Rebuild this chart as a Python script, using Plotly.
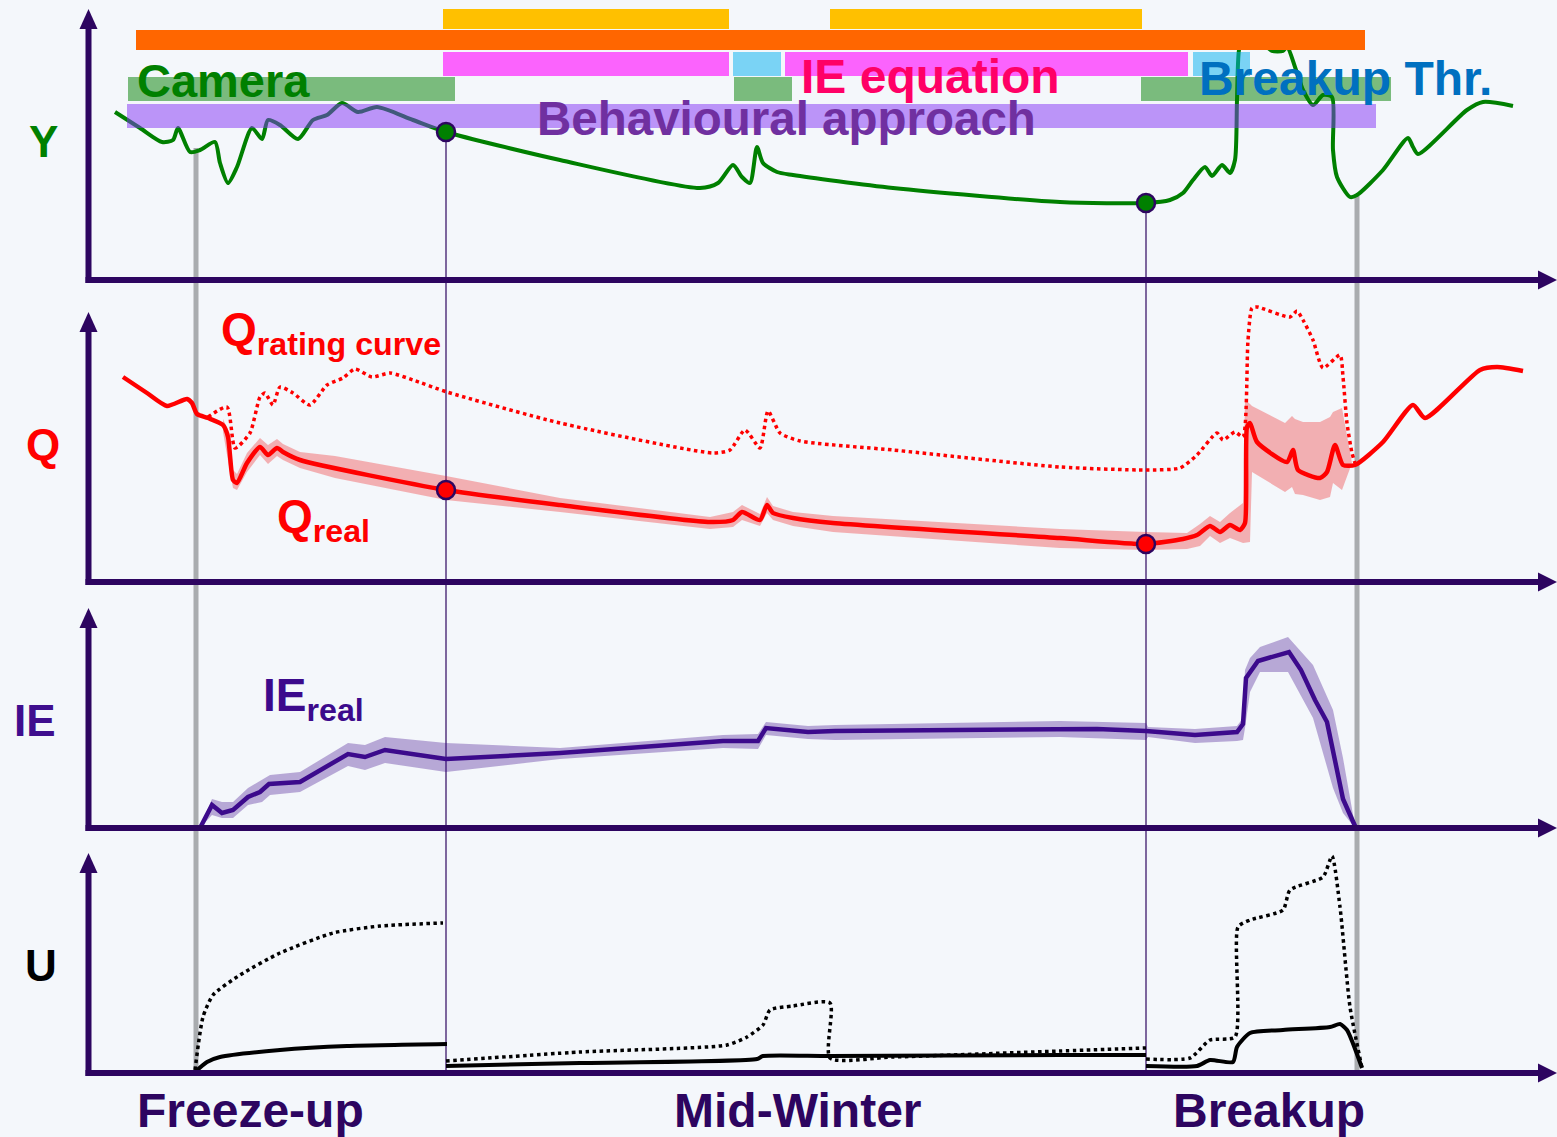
import plotly.graph_objects as go

# ---------------------------------------------------------------- style
BG = "#F4F7FB"
AXIS = "#2D0560"
FONT = "Liberation Sans, Arial, sans-serif"
W, H = 1557, 1137
UNIT = 10          # px per data unit on every axis
X0 = 90            # px position of the time origin
BASE = {"Y": 280, "Q": 582, "IE": 828, "U": 1073}   # px baseline of each panel
YREF = {"Y": "y", "Q": "y2", "IE": "y3", "U": "y4"}
TIP = {"Y": 27.1, "Q": 27.0, "IE": 22.0, "U": 22.0}  # axis arrow tips (panel units)

# ---------------------------------------------------------------- data
# water level Y
y_t = [2.5, 5.0, 7.2, 8.3, 8.8, 10.0, 11.0, 12.5, 13.0, 13.8, 14.7, 16.2, 17.2, 17.8,
       19.0, 20.8, 22.3, 23.7, 25.2, 26.8, 28.7, 32.3, 35.6, 47.0, 61.0, 62.8, 64.3,
       65.2, 66.0, 66.7, 67.3, 68.7, 70.3, 80.3, 97.0, 105.6, 108.0, 109.3, 110.3,
       111.5, 112.2, 113.2, 114.0, 114.5, 114.7, 114.9, 115.3, 117.2, 118.2, 119.3,
       119.7, 121.3, 122.3, 123.3, 124.2, 124.3, 124.7, 126.0, 126.7, 129.3, 131.8,
       132.3, 132.8, 137.7, 139.3, 142.3]
y_val = [16.8, 15.2, 13.8, 14.0, 15.2, 12.8, 13.0, 13.8, 11.7, 9.7, 11.3, 15.2, 14.1, 16.0,
         15.5, 14.1, 16.0, 16.5, 17.7, 16.8, 17.3, 16.0, 14.8, 12.0, 9.2, 9.7, 11.5,
         10.3, 9.7, 13.3, 11.7, 10.8, 10.5, 9.2, 7.8, 7.7, 8.0, 8.7, 10.0,
         11.3, 10.4, 11.5, 10.7, 12.0, 18.0, 23.0, 24.2, 23.8, 22.9, 22.9,
         23.3, 19.0, 17.5, 18.5, 18.3, 13.0, 10.3, 8.3, 8.5, 11.0, 14.2,
         13.3, 12.6, 17.0, 17.8, 17.4]

# method coverage periods (start, end) in time units
periods = {
    "rating":   [(35.3, 63.9), (74.0, 105.2)],
    "orange":   [(4.6, 127.5)],
    "ie_eq":    [(35.3, 63.9), (69.5, 109.8)],
    "thr":      [(64.3, 69.1), (110.3, 116.0)],
    "camera":   [(3.8, 36.5), (64.4, 70.2), (105.1, 130.1)],
    "behav":    [(3.7, 128.6)],
}

# discharge
q_t = [3.3, 5.7, 7.7, 9.7, 10.2, 10.7, 11.8, 13.3, 13.8, 14.3, 14.7, 15.7, 17.0, 17.8,
       18.7, 19.3, 21.0, 35.6, 47.0, 62.0, 64.3, 65.2, 67.0, 67.7, 68.3, 70.3, 74.3,
       97.0, 105.6, 109.3, 110.7, 112.0, 113.0, 114.0, 115.0, 115.5, 115.7, 116.0,
       116.7, 119.7, 120.3, 120.8, 123.0, 123.7, 124.5, 125.3, 126.5, 129.3, 132.3,
       133.5, 139.0, 140.7, 143.3]
q_real = [20.5, 18.9, 17.6, 18.3, 17.9, 16.8, 16.4, 15.7, 14.5, 10.2, 9.9, 11.9, 13.5, 12.7,
          13.4, 13.0, 12.2, 9.2, 7.7, 6.0, 6.2, 7.0, 6.2, 7.7, 6.9, 6.4, 5.9,
          4.4, 3.8, 4.3, 4.7, 5.6, 5.0, 5.7, 5.2, 5.9, 15.5, 15.9,
          14.0, 12.0, 13.2, 11.2, 10.4, 11.0, 13.7, 11.7, 11.7, 14.0, 17.7,
          16.4, 21.2, 21.5, 21.1]
qb_t = [13.3, 14.0, 14.3, 14.7, 15.7, 17.0, 17.8, 18.7, 19.3, 21.0, 24.5, 35.6, 47.0,
        62.0, 64.3, 65.2, 67.0, 67.7, 68.3, 70.3, 74.3, 97.0, 105.6, 109.7, 111.0,
        112.0, 113.0, 114.0, 115.3, 115.5, 116.0, 116.2, 119.5, 120.2, 120.5, 121.3,
        123.0, 124.0, 124.3, 125.2, 126.2]
qb_lo = [15.0, 11.0, 9.4, 9.2, 11.0, 12.7, 11.8, 12.6, 12.2, 11.4, 10.4, 8.2, 7.0,
         5.3, 5.5, 6.2, 5.6, 6.9, 6.2, 5.6, 5.0, 3.4, 3.2, 3.3, 3.6,
         4.6, 3.9, 4.4, 3.9, 3.9, 4.0, 11.0, 9.0, 9.5, 8.8, 8.7,
         8.2, 8.5, 9.9, 9.2, 11.9]
qb_hi = [16.3, 14.8, 11.2, 10.8, 12.9, 14.4, 13.7, 14.3, 13.8, 13.0, 12.6, 10.6, 8.4,
         6.5, 7.0, 7.7, 6.8, 8.5, 7.6, 7.0, 6.6, 5.3, 5.0, 4.9, 5.8,
         6.6, 6.0, 6.9, 7.9, 18.2, 17.8, 17.6, 15.9, 16.6, 16.3, 16.0,
         16.0, 16.5, 17.0, 17.4, 11.9]
qr_t = [11.8, 13.7, 14.5, 16.0, 17.0, 17.5, 18.3, 19.0, 20.3, 22.0, 23.7, 25.3, 26.5,
        28.2, 30.0, 32.3, 35.7, 47.0, 62.3, 64.0, 65.5, 67.0, 67.8, 69.0, 71.0, 80.3,
        97.0, 105.6, 109.0, 110.7, 112.7, 113.3, 114.5, 115.3, 115.8, 116.2, 116.7,
        120.0, 120.7, 121.3, 122.3, 123.3, 125.0, 125.3, 125.7, 126.2, 126.5]
q_rating = [16.5, 17.5, 13.4, 14.9, 18.5, 18.9, 17.7, 19.5, 18.9, 17.7, 19.7, 20.4, 21.3,
            20.5, 20.9, 20.2, 19.0, 15.9, 12.9, 13.2, 15.2, 13.4, 17.1, 14.9, 14.1, 13.2,
            11.5, 11.2, 11.4, 12.7, 14.9, 14.2, 15.0, 14.5, 24.2, 27.4, 27.5,
            26.5, 27.1, 26.2, 24.2, 21.4, 22.7, 20.5, 15.9, 12.9, 11.9]

# ice effect
ie_t = [2.3, 11.0, 12.2, 13.2, 14.3, 15.8, 17.0, 17.9, 21.0, 25.8, 27.5, 29.5, 35.6,
        47.0, 63.3, 66.8, 67.6, 71.8, 74.5, 97.0, 100.7, 105.6, 110.5, 114.7, 115.3,
        115.6, 116.8, 119.9, 121.1, 122.5, 123.7, 125.3, 126.5]
ie_real = [0.0, 0.0, 2.3, 1.5, 1.8, 3.1, 3.6, 4.4, 4.6, 7.4, 7.1, 7.8, 6.9,
           7.5, 8.7, 8.7, 10.0, 9.6, 9.7, 9.9, 9.9, 9.7, 9.3, 9.6, 10.4,
           15.0, 16.7, 17.6, 15.8, 12.8, 10.6, 2.9, 0.2]
ieb_t = [11.0, 12.2, 13.2, 14.3, 15.8, 17.2, 18.0, 21.0, 25.8, 27.5, 29.5, 35.6, 47.0,
         63.3, 66.8, 67.6, 71.8, 74.5, 97.0, 105.6, 105.8, 110.5, 114.7, 115.3, 115.5,
         116.0, 117.0, 119.8, 122.3, 124.3, 125.3, 126.5]
ieb_lo = [0.0, 1.3, 1.0, 1.0, 2.3, 2.6, 3.3, 3.6, 6.2, 5.8, 6.5, 5.6, 6.9,
          8.0, 7.9, 9.3, 8.9, 8.8, 9.1, 8.8, 9.1, 8.5, 8.7, 8.8, 10.0,
          13.6, 15.6, 15.6, 11.0, 4.0, 1.5, 0.0]
ieb_hi = [0.0, 2.9, 2.6, 2.6, 4.0, 4.8, 5.3, 5.6, 8.5, 8.3, 9.1, 8.5, 8.0,
          9.3, 9.4, 10.6, 10.2, 10.3, 10.7, 10.5, 10.1, 9.9, 10.2, 11.0, 15.8,
          17.0, 18.1, 19.1, 16.3, 11.8, 7.0, 0.2]

# uncertainty (None separates the three estimation periods)
u_t = [10.5, 11.7, 13.0, 19.0, 25.7, 35.7, None,
       35.6, 49.0, 66.7, 67.3, 74.0, 97.0, 105.6, None,
       105.6, 110.7, 112.0, 114.3, 114.7, 116.0, 119.3, 124.0, 125.0, 125.7, 127.2]
u_real = [0.1, 1.1, 1.6, 2.3, 2.7, 2.9, None,
          0.7, 1.0, 1.4, 1.7, 1.7, 1.8, 1.8, None,
          0.7, 0.7, 1.3, 1.1, 2.6, 4.0, 4.3, 4.6, 4.9, 4.3, 0.5]
ud_t = [10.5, 11.3, 12.3, 15.0, 19.0, 24.3, 29.0, 35.3, None,
        35.6, 49.0, 63.7, 65.7, 67.3, 68.0, 70.3, 74.0, 74.0, 80.3, 97.0, 105.6, None,
        105.6, 110.0, 112.0, 114.5, 114.8, 116.0, 119.3, 120.0, 123.3, 124.2, 125.0,
        126.0, 127.2]
u_rating = [0.3, 5.6, 7.8, 9.8, 12.0, 14.0, 14.7, 15.0, None,
            1.2, 2.1, 2.8, 3.6, 4.8, 6.3, 6.7, 7.0, 1.5, 1.6, 2.2, 2.5, None,
            1.4, 1.5, 3.3, 3.6, 14.6, 15.3, 16.3, 18.3, 19.6, 21.7, 16.6,
            6.6, 0.5]

# key instants
t_freeze, t_breakup_end = 10.6, 126.7
t_snap = [35.6, 105.6]
y_snap = [14.8, 7.7]
q_snap = [9.2, 3.8]

# ---------------------------------------------------------------- figure
fig = go.Figure()


def line(x, y, axis, color, width, dash="solid", shape="linear", smooth=None):
    ln = dict(color=color, width=width, dash=dash, shape=shape)
    if smooth is not None:
        ln["smoothing"] = smooth
    fig.add_trace(go.Scatter(x=x, y=y, yaxis=axis, mode="lines", line=ln,
                             hoverinfo="skip", showlegend=False))


def band(x, lo, hi, axis, color):
    fig.add_trace(go.Scatter(x=list(x) + list(x)[::-1], y=list(hi) + list(lo)[::-1],
                             yaxis=axis, mode="lines", fill="toself", fillcolor=color,
                             line=dict(width=0), hoverinfo="skip", showlegend=False))


# Y panel: level + method bars
line(y_t, y_val, "y", "#008000", 4, shape="spline", smooth=0.7)

rows = {  # (bottom, top, colour)
    "rating": (25.1, 27.1, "#FFC000"),
    "orange": (23.0, 25.0, "#FF6600"),
    "ie_eq":  (20.4, 22.8, "rgba(255,0,255,0.6)"),
    "thr":    (20.4, 22.8, "rgba(0,176,240,0.5)"),
    "camera": (17.9, 20.3, "rgba(0,128,0,0.5)"),
    "behav":  (15.2, 17.6, "rgba(130,50,245,0.5)"),
}
for key, spans in periods.items():
    lo, hi, col = rows[key]
    for a, b in spans:
        fig.add_trace(go.Scatter(x=[a, b, b, a, a], y=[lo, lo, hi, hi, lo], yaxis="y",
                                 mode="lines", fill="toself", fillcolor=col,
                                 line=dict(width=0), hoverinfo="skip", showlegend=False))

# Q panel
band(qb_t, qb_lo, qb_hi, "y2", "rgba(240,30,30,0.33)")
line(q_t, q_real, "y2", "#FF0000", 4.5, shape="spline", smooth=0.6)
line(qr_t, q_rating, "y2", "#FF0000", 3.5, dash="dot", shape="spline", smooth=0.6)

# IE panel
band(ieb_t, ieb_lo, ieb_hi, "y3", "rgba(60,10,140,0.33)")
line(ie_t, ie_real, "y3", "#3C0A8C", 4.5)

# U panel
line(u_t, u_real, "y4", "#000000", 4, shape="spline", smooth=0.6)
line(ud_t, u_rating, "y4", "#000000", 3.5, dash="dot", shape="spline", smooth=0.6)

# snapshot markers
fig.add_trace(go.Scatter(x=t_snap, y=y_snap, yaxis="y", mode="markers",
                         marker=dict(size=18, color="#008000", line=dict(color=AXIS, width=2.5)),
                         hoverinfo="skip", showlegend=False))
fig.add_trace(go.Scatter(x=t_snap, y=q_snap, yaxis="y2", mode="markers",
                         marker=dict(size=18, color="#FF0000", line=dict(color=AXIS, width=2.5)),
                         hoverinfo="skip", showlegend=False))

# ---------------------------------------------------------------- shapes
shapes = []
u_floor = -(BASE["U"] - BASE["Y"]) / UNIT  # U baseline in Y-panel units

# season boundaries (grey) and snapshot instants (thin)
for t, top in [(t_freeze, 13.2), (t_breakup_end, 8.4)]:
    shapes.append(dict(type="line", xref="x", yref="y", x0=t, x1=t, y0=top, y1=u_floor - 0.2,
                       line=dict(color="#A9ACAF", width=5), layer="below"))
for t, top in zip(t_snap, y_snap):
    shapes.append(dict(type="line", xref="x", yref="y", x0=t, x1=t, y0=top, y1=u_floor,
                       line=dict(color=AXIS, width=1.2), layer="below"))

# axes with arrow heads
x_end = (W - X0) / UNIT
for p, yr in YREF.items():
    tip = TIP[p]
    shapes.append(dict(type="line", xref="x", yref=yr, x0=-0.15, x1=-0.15, y0=-0.3, y1=tip - 1.5,
                       line=dict(color=AXIS, width=6)))
    shapes.append(dict(type="path", xref="x", yref=yr,
                       path=f"M -1.05,{tip - 2.0} L -0.15,{tip} L 0.75,{tip - 2.0} Z",
                       fillcolor=AXIS, line=dict(width=0)))
    shapes.append(dict(type="line", xref="x", yref=yr, x0=-0.45, x1=x_end - 1.5, y0=0, y1=0,
                       line=dict(color=AXIS, width=6)))
    shapes.append(dict(type="path", xref="x", yref=yr,
                       path=f"M {x_end - 1.9},0.95 L {x_end},0 L {x_end - 1.9},-0.95 Z",
                       fillcolor=AXIS, line=dict(width=0)))

# ---------------------------------------------------------------- text
ann = []


def txt(x, y, yr, s, color, size, xanchor="center"):
    ann.append(dict(x=x, y=y, xref="x", yref=yr, text=s, showarrow=False,
                    xanchor=xanchor, yanchor="middle",
                    font=dict(family=FONT, size=size, color=color)))


B = "<b>{}</b>"
txt(-4.7, 13.9, "y", B.format("Y"), "#008000", 44)
txt(-4.7, 13.8, "y2", B.format("Q"), "#FF0000", 44)
txt(-5.5, 10.8, "y3", B.format("IE"), "#3F0E8E", 44)
txt(-4.9, 10.8, "y4", B.format("U"), "#000000", 44)

txt(13.35, 20.0, "y", B.format("Camera"), "#008000", 47)
txt(84.0, 20.4, "y", B.format("IE equation"), "#FF0066", 48)
txt(125.5, 20.2, "y", B.format("Breakup Thr."), "#0070C0", 48)
txt(69.6, 16.2, "y", B.format("Behavioural approach"), "#7030A0", 47.5)

txt(12.9, 25.0, "y2", "<b>Q<sub>rating curve</sub></b>", "#FF0000", 46, xanchor="left")
txt(18.5, 6.3, "y2", "<b>Q<sub>real</sub></b>", "#FF0000", 46, xanchor="left")
txt(17.1, 13.0, "y3", "<b>IE<sub>real</sub></b>", "#3C0A8C", 46, xanchor="left")

txt(16.0, -3.7, "y4", B.format("Freeze-up"), AXIS, 48)
txt(70.8, -3.7, "y4", B.format("Mid-Winter"), AXIS, 48)
txt(117.9, -3.7, "y4", B.format("Breakup"), AXIS, 48)


def yax(p, **kw):
    b = BASE[p]
    d = dict(range=[(b - H) / UNIT, b / UNIT], domain=[0, 1], visible=False, fixedrange=True)
    d.update(kw)
    return d


fig.update_layout(
    width=W, height=H, margin=dict(l=0, r=0, t=0, b=0),
    paper_bgcolor=BG, plot_bgcolor=BG, hovermode=False, showlegend=False,
    xaxis=dict(range=[-X0 / UNIT, x_end], domain=[0, 1], visible=False, fixedrange=True),
    yaxis=yax("Y"),
    yaxis2=yax("Q", overlaying="y"),
    yaxis3=yax("IE", overlaying="y"),
    yaxis4=yax("U", overlaying="y"),
    shapes=shapes, annotations=ann,
)

fig.write_html("out.html", config={"displayModeBar": False})
